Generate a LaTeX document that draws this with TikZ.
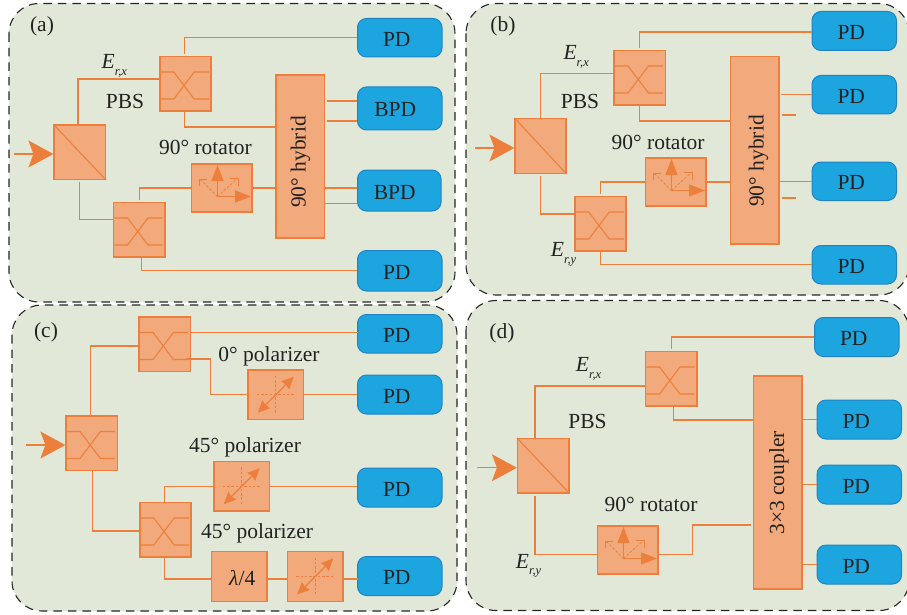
\documentclass[tikz,border=0pt]{standalone}
\usepackage{fontspec}
\setmainfont{Liberation Serif}
\usetikzlibrary{arrows.meta}
\definecolor{acc}{HTML}{ED7F3C}
\definecolor{cellfill}{HTML}{F2A97B}
\definecolor{pdfill}{HTML}{1CA5DF}
\definecolor{pdline}{HTML}{1F83C6}
\definecolor{panelfill}{HTML}{E2E8D7}
\definecolor{ink}{HTML}{222222}
\tikzset{
  panel/.style={draw=black!85,fill=panelfill,line width=1.1pt,dash pattern=on 8.5pt off 6pt,rounded corners=30pt},
  cell/.style={draw=acc,fill=cellfill,line width=1.2pt,inner sep=0pt,text=ink,font=\fontsize{21.5}{25}\selectfont},
  pdbox/.style={draw=pdline,fill=pdfill,line width=1pt,rounded corners=9pt,inner sep=0pt,text=ink,font=\fontsize{21.5}{25}\selectfont},
  wire/.style={draw=acc,line width=1.2pt},
  fine/.style={draw=acc,line width=1.1pt},
  dots/.style={draw=acc,line width=0.8pt,dash pattern=on 2.5pt off 1.8pt},
  lab/.style={inner sep=0pt,text=ink,font=\fontsize{21.5}{25}\selectfont},
  inarrow/.style={wire,-{Stealth[length=25pt,width=27pt,inset=5pt,fill=acc]}},
  bigtip/.style={fine,-{Stealth[length=16pt,width=12pt,inset=0pt,fill=acc]}},
  poltip/.style={fine,{Stealth[length=12pt,width=11pt,inset=1pt,fill=acc]}-{Stealth[length=12pt,width=11pt,inset=1pt,fill=acc]}},
}
\newcommand{\blk}[7]{%
  \pgfmathsetmacro\cxx{(#3+#5)/2}\pgfmathsetmacro\cyy{(#4+#6)/2}%
  \pgfmathsetmacro\ww{#5-#3}\pgfmathsetmacro\hh{#6-#4}%
  \node[#1,minimum width=\ww pt,minimum height=\hh pt] (#2) at (\cxx,\cyy) {\raisebox{-8.5pt}[0pt][0pt]{#7}};}
\newcommand{\PDt}{\hspace*{-6pt}PD}
\newcommand{\BPDt}{\hspace*{-9pt}BPD}
\newcommand{\xglyph}[1]{\begin{scope}[shift={(#1.center)}]
  \draw[fine] (-25,-11.75) -- (-11.7,-11.75) -- (8.7,15.25) -- (23.3,15.25);
  \draw[fine] (-25,15.25) -- (-11.7,15.25) -- (8.7,-11.75) -- (23.3,-11.75);
\end{scope}}
\newcommand{\pbsglyph}[1]{\draw[fine] (#1.north west) -- (#1.south east);}
\newcommand{\rotglyph}[1]{\begin{scope}[shift={(#1.center)}]
  \draw[dots] (-4.25,8.5) -- (-21.75,-9);
  \draw[dots] (-4.25,8.5) -- (16.25,-10);
  \draw[fine,line width=0.8pt] (-22.5,-2) -- (-22.5,-9) -- (-14.5,-9);
  \draw[fine,line width=0.8pt] (8.5,-10) -- (17,-10) -- (17,-2);
  \draw[bigtip] (-4.25,8.5) -- (-4.25,-23);
  \draw[bigtip] (-4.25,8.5) -- (29.25,8.5);
\end{scope}}
\newcommand{\polglyph}[1]{\begin{scope}[shift={(#1.center)}]
  \draw[dots] (-19,0) -- (19,0);
  \draw[dots] (0,-19) -- (0,19);
  \draw[poltip] (-18,18) -- (18,-18);
\end{scope}}
\newcommand{\Elab}[5]{\node[lab,anchor=base west] (#1) at (#2,#3) {\textit{E}\raisebox{-6.5pt}{\fontsize{12.5}{13}\selectfont\textit{r,#4}}};}
\begin{document}
\begin{tikzpicture}[x=1pt,y=-1pt]
\useasboundingbox (0,0) rectangle (907,615);
% panels
\path[panel] (9,3.5) rectangle (455,302);
\path[panel] (466,3.5) rectangle (909,295);
\path[panel] (12,305) rectangle (457,611);
\path[panel] (466,300.5) rectangle (909,610.5);

% ---------- (a)
\node[lab] (ta) at (42,26) {(a)};
\blk{cell}{pa}{54}{125}{105.5}{179.5}{}
\blk{cell}{ca1}{160}{56.5}{211}{111}{}
\blk{cell}{ca2}{113.5}{202.5}{165}{257}{}
\blk{cell}{ra}{191.5}{164}{252}{212}{}
\blk{cell}{hya}{276}{75}{324.5}{238}{}
\blk{pdbox}{da1}{357.5}{18.5}{442}{57}{\PDt}
\blk{pdbox}{da2}{357.5}{87}{442}{130}{\BPDt}
\blk{pdbox}{da3}{357.5}{170}{441}{211}{\BPDt}
\blk{pdbox}{da4}{357.5}{250.5}{442}{291}{\PDt}
\pbsglyph{pa}\xglyph{ca1}\xglyph{ca2}\rotglyph{ra}
\node[lab,rotate=90] (lha) at (300.5,162) {90° hybrid};
\Elab{ea}{101.5}{69}{x}{}
\node[lab] (pba) at (125,101) {PBS};
\node[lab] (rta) at (205.5,147) {90° rotator};
\coordinate (ia) at (14,154);
\draw[inarrow] (ia) -- ([yshift=-1.75pt]pa.west);
\draw[wire] ([xshift=-1.75pt]pa.north) |- ([yshift=4.75pt]ca1.west);
\draw[wire] ([yshift=-1.5pt]pa.south) |- ([yshift=10.25pt]ca2.west);
\draw[wire] ([shift={(-1,-2)}]ca1.north) |- (da1.west);
\draw[wire] ([xshift=-1pt]ca1.south) |- ([yshift=29.5pt]hya.west);
\draw[wire] ([yshift=2pt]ca2.north) |- (ra.west);
\draw[wire] (ra.east) -- (ra.east -| hya.west);
\draw[wire] ([xshift=2pt]ca2.south) |- (da4.west);
\draw[wire] ([yshift=7.5pt]da2.west) -- ++(-30.5,0);
\draw[wire] ([yshift=-12.5pt]da2.west) -- ++(-30.5,0);
\draw[wire] ([yshift=2.5pt]da3.west) -- ++(-33,0);
\draw[wire] ([yshift=-13pt]da3.west) -- ++(-33,0);

% ---------- (b)
\node[lab] (tb) at (503,26) {(b)};
\blk{cell}{pb}{515}{118.5}{566}{173.5}{}
\blk{cell}{cb1}{614}{50.5}{665.5}{105}{}
\blk{cell}{cb2}{575}{196.5}{626}{251}{}
\blk{cell}{rb}{645.5}{158}{706}{206}{}
\blk{cell}{hyb}{730.5}{56.5}{779}{244}{}
\blk{pdbox}{db1}{812}{11.5}{896.5}{50.5}{\PDt}
\blk{pdbox}{db2}{812}{75.5}{896.5}{114}{\PDt}
\blk{pdbox}{db3}{812}{162}{896.5}{200.5}{\PDt}
\blk{pdbox}{db4}{812}{245.5}{896.5}{284}{\PDt}
\pbsglyph{pb}\xglyph{cb1}\xglyph{cb2}\rotglyph{rb}
\node[lab,rotate=90] (lhb) at (758.5,161) {90° hybrid};
\Elab{eb}{563.3}{60}{x}{}
\Elab{eb2}{550.7}{256.7}{y}{}
\node[lab] (pbb) at (580,101) {PBS};
\node[lab] (rtb) at (658,142) {90° rotator};
\coordinate (ib) at (475,148);
\draw[inarrow] (ib) -- ([yshift=-2pt]pb.west);
\draw[wire] (pb.north) |- ([yshift=4.25pt]cb1.west);
\draw[wire] ([yshift=-2pt]pb.south) |- ([yshift=9.75pt]cb2.west);
\draw[wire] ([yshift=2pt]cb1.north) |- ([yshift=-1pt]db1.west);
\draw[wire] (cb1.south) |- ([yshift=29.25pt]hyb.west);
\draw[wire] ([yshift=2pt]cb2.north) |- (rb.west);
\draw[wire] (rb.east) -- (rb.east -| hyb.west);
\draw[wire] (cb2.south) |- (db4.west);
\draw[wire] (db2.west) -- ++(-31,0);
\draw[wire] ([shift={(2,-35.25)}]hyb.east) -- ++(14.5,0);
\draw[wire] (db3.west) -- (db3.west -| hyb.east);
\draw[wire] ([shift={(2,47.75)}]hyb.east) -- ++(14.5,0);

% ---------- (c)
\node[lab] (tc) at (46,332) {(c)};
\blk{cell}{c0}{66}{416}{117.5}{470.5}{}
\blk{cell}{cc1}{139}{317}{190.5}{371.5}{}
\blk{cell}{cc2}{140}{502.5}{191}{557}{}
\blk{cell}{pc1}{248}{370}{303.5}{419.5}{}
\blk{cell}{pc2}{214}{461.5}{269.5}{511}{}
\blk{cell}{lam}{211.5}{551.5}{267}{601.5}{\hspace*{6pt}\textit{λ}/4}
\blk{cell}{pc3}{287.5}{551.5}{343}{601.5}{}
\blk{pdbox}{dc1}{357.5}{314.5}{442}{353}{\PDt}
\blk{pdbox}{dc2}{357.5}{375}{442}{414}{\PDt}
\blk{pdbox}{dc3}{357.5}{468}{442}{507}{\PDt}
\blk{pdbox}{dc4}{357.5}{556.5}{442}{595.5}{\PDt}
\xglyph{c0}\xglyph{cc1}\xglyph{cc2}\polglyph{pc1}\polglyph{pc2}\polglyph{pc3}
\node[lab] (l0) at (269,356) {0° polarizer};
\node[lab] (l45a) at (245,447) {45° polarizer};
\node[lab] (l45b) at (257,533) {45° polarizer};
\coordinate (ic) at (26,445);
\draw[inarrow] (ic) -- ([yshift=-1.75pt]c0.west);
\draw[wire] ([xshift=-1.25pt]c0.north) |- ([yshift=-1.75pt]cc1.west);
\draw[wire] ([xshift=0.75pt]c0.south) |- ([yshift=-1.25pt]cc2.west);
\draw[wire] ([yshift=11.75pt]cc1.east) -- ++(167,0);
\draw[wire] ([shift={(-5.5,14.75)}]cc1.east) -- ++(24.5,0) |- (pc1.west);
\draw[wire] (pc1.east) -- (pc1.east -| dc2.west);
\draw[wire] ([xshift=-1pt]cc2.north) |- (pc2.west);
\draw[wire] (pc2.east) -- (pc2.east -| dc3.west);
\draw[wire] ([xshift=-1pt]cc2.south) |- ([yshift=-2.5pt]lam.west);
\draw[wire] ([yshift=-2.5pt]lam.east) -- ([yshift=-2.5pt]pc3.west);
\draw[wire] ([yshift=-2.5pt]pc3.east) -- ++(14.5,0);

% ---------- (d)
\node[lab] (td) at (502,333) {(d)};
\blk{cell}{pd}{517.5}{438.5}{569}{493}{}
\blk{cell}{cd}{645.5}{351.5}{697}{406}{}
\blk{cell}{rd}{597.5}{526}{658}{574}{}
\blk{cell}{cp}{753.5}{376}{802}{589}{}
\blk{pdbox}{dd1}{814.5}{317.5}{899}{356.5}{\PDt}
\blk{pdbox}{dd2}{817}{400}{901.5}{439}{\PDt}
\blk{pdbox}{dd3}{817}{465}{901.5}{504}{\PDt}
\blk{pdbox}{dd4}{817}{545}{901.5}{584}{\PDt}
\pbsglyph{pd}\xglyph{cd}\rotglyph{rd}
\node[lab,rotate=90] (lcp) at (779,483) {3×3 coupler};
\Elab{ed}{575.7}{371.7}{x}{}
\Elab{ed2}{515.7}{568.3}{y}{}
\node[lab] (pbd) at (587.5,421) {PBS};
\node[lab] (rtd) at (651,504) {90° rotator};
\coordinate (id) at (477,467.75);
\draw[inarrow] (id) -- ([yshift=-2pt]pd.west);
\draw[wire] ([xshift=-8.25pt]pd.north) |- ([yshift=-7.25pt]cd.west);
\draw[wire] ([shift={(-8.25,2)}]pd.south) |- ([yshift=-4.5pt]rd.west);
\draw[wire] ([yshift=2pt]cd.north) |- (dd1.west);
\draw[wire] ([xshift=2pt]cd.south) |- ([yshift=62.5pt]cp.west);
\draw[wire] ([yshift=-4.5pt]rd.east) -- ++(33.5,0) |- ([shift={(-2,42.5)}]cp.west);
\draw[wire] (dd2.west) -- (dd2.west -| cp.east);
\draw[wire] (dd3.west) -- (dd3.west -| cp.east);
\draw[wire] (dd4.west) -- (dd4.west -| cp.east);
\end{tikzpicture}
\end{document}
